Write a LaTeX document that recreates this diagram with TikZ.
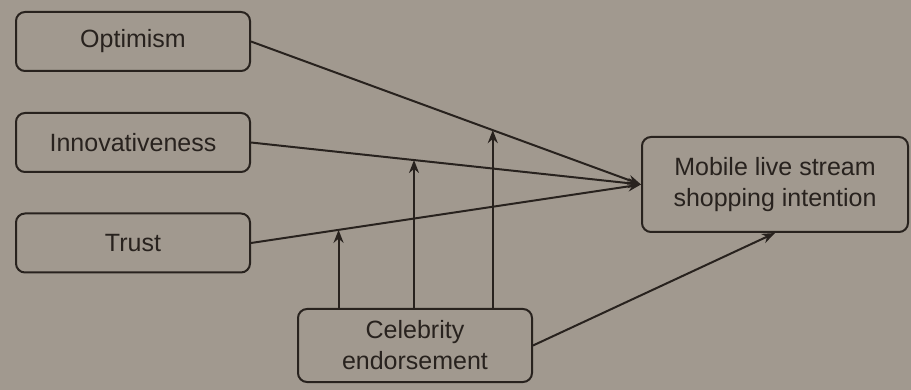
\documentclass[tikz,border=0pt]{standalone}
\usepackage{fontspec}
\setmainfont{Liberation Sans}
\usetikzlibrary{arrows.meta,calc}
\definecolor{bgc}{RGB}{161,153,143}
\definecolor{ink}{RGB}{40,34,30}
\begin{document}
\begin{tikzpicture}[x=1pt,y=-1pt,
  box/.style={draw=ink,line width=2pt,rounded corners=9pt,fill=bgc,text=ink,align=center,inner sep=0pt,font=\fontsize{25}{31}\selectfont},
  conn/.style={draw=ink,line width=2pt},
  arr/.style={conn,-{Stealth[length=13pt,width=10pt]}}]
\fill[bgc] (0,0) rectangle (911,390);
\useasboundingbox (0,0) rectangle (911,390);
\node[box,minimum width=234pt,minimum height=59pt] (opt) at (133,41.5) {Optimism};
\node[box,minimum width=234pt,minimum height=59pt] (inn) at (133,142.5) {Innovativeness};
\node[box,minimum width=234pt,minimum height=59pt] (tru) at (133,243) {Trust};
\node[box,minimum width=266pt,minimum height=95pt] (mob) at (775,184.5) {Mobile live stream\\shopping intention};
\node[box,minimum width=234pt,minimum height=73pt] (cel) at (415,345.5) {Celebrity\\endorsement};
\draw[arr] (opt.east) -- (mob.west);
\draw[arr] (inn.east) -- (mob.west);
\draw[arr] (tru.east) -- (mob.west);
\draw[arr] (cel.east) -- (mob.south);
\path (tru.east) -- (mob.west) coordinate[pos=0.2245] (m1);
\path (inn.east) -- (mob.west) coordinate[pos=0.418] (m2);
\path (opt.east) -- (mob.west) coordinate[pos=0.620] (m3);
\draw[arr] (m1 |- cel.north) -- (m1);
\draw[arr] (m2 |- cel.north) -- (m2);
\draw[arr] (m3 |- cel.north) -- (m3);
\end{tikzpicture}
\end{document}
